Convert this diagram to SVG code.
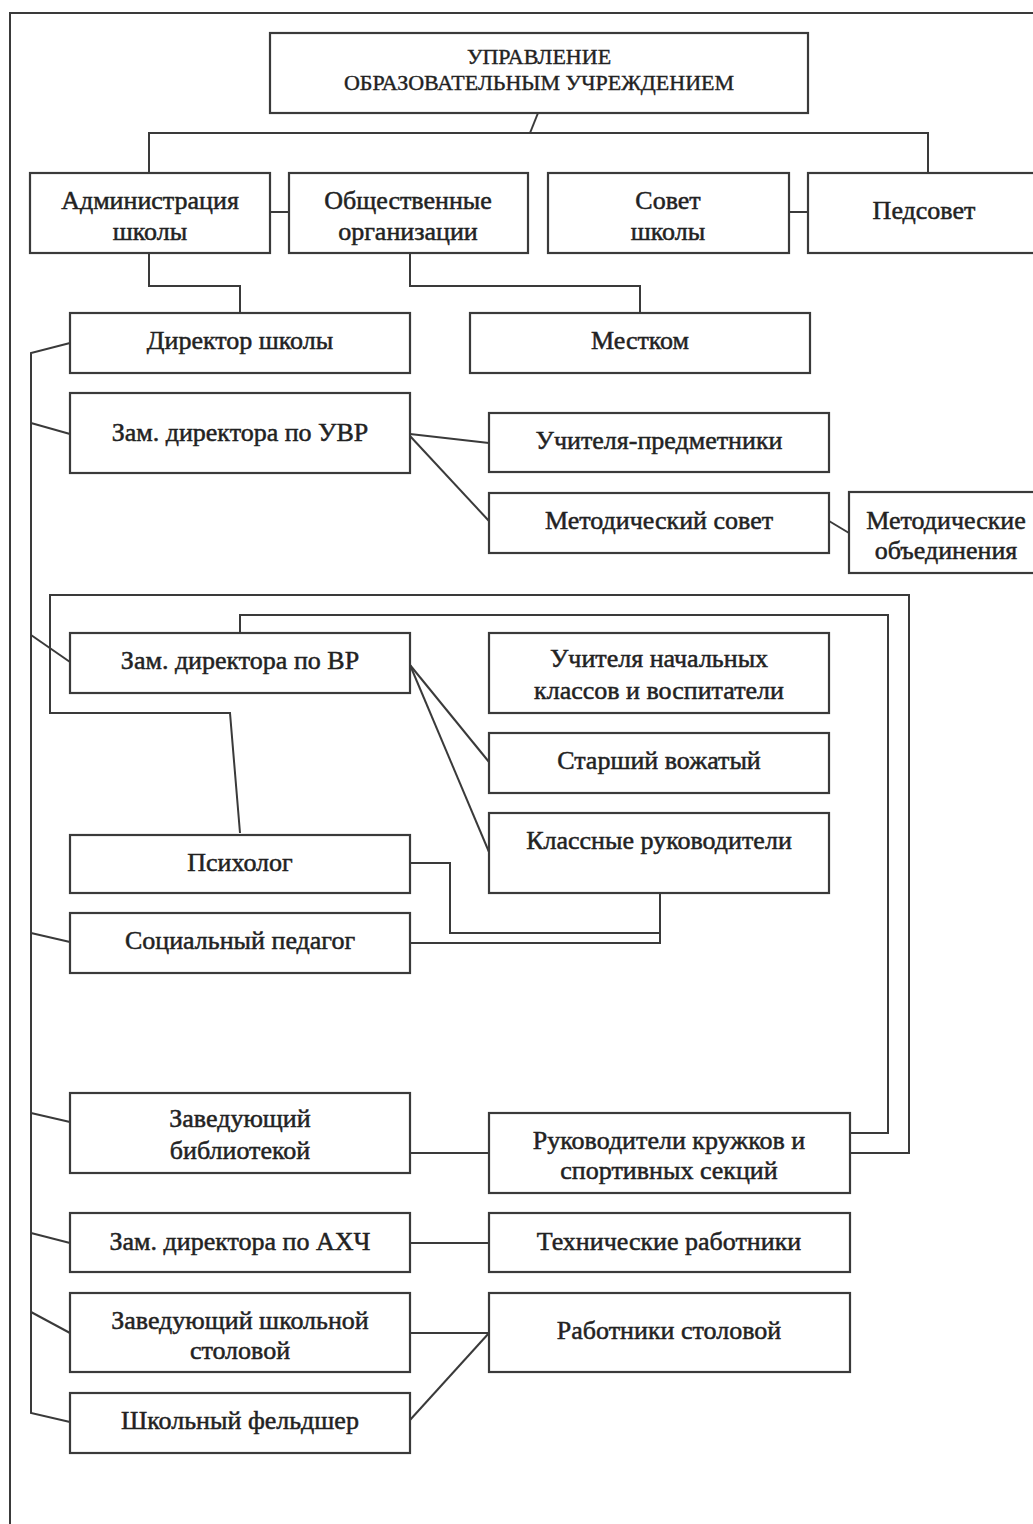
<svg xmlns="http://www.w3.org/2000/svg" width="1033" height="1524" viewBox="0 0 1033 1524">
<style>
.box{fill:#ffffff;stroke:#3a3a3a;stroke-width:2.2}
.ln{fill:none;stroke:#3a3a3a;stroke-width:2}
.t{font-family:"Liberation Serif","Times New Roman",serif;font-size:26px;fill:#222222;stroke:#222222;stroke-width:0.5;text-anchor:middle}
.h{font-family:"Liberation Serif","Times New Roman",serif;font-size:22px;fill:#222222;stroke:#222222;stroke-width:0.4;text-anchor:middle}
</style>
<rect x="0" y="0" width="1033" height="1524" fill="#ffffff"/>
<g id="frame">
<path class="ln" d="M10,1524 L10,13 L1033,13"/>
</g>
<g id="connectors">
<path class="ln" d="M538,113 L530,133"/>
<path class="ln" d="M149,173 L149,133 L928,133 L928,173"/>
<path class="ln" d="M270,212 L289,212"/>
<path class="ln" d="M789,212 L808,212"/>
<path class="ln" d="M149,253 L149,286 L240,286 L240,313"/>
<path class="ln" d="M410,253 L410,286 L640,286 L640,313"/>
<path class="ln" d="M70,343 L31,353 L31,1413 L70,1422"/>
<path class="ln" d="M31,423 L70,434"/>
<path class="ln" d="M410,434 L489,443"/>
<path class="ln" d="M410,436 L489,521"/>
<path class="ln" d="M829,521 L849,533"/>
<path class="ln" d="M31,635 L70,662"/>
<path class="ln" d="M410,665 L489,762"/>
<path class="ln" d="M410,665 L489,852"/>
<path class="ln" d="M240,833 L230,713 L50,713 L50,595 L909,595 L909,1153 L850,1153"/>
<path class="ln" d="M240,633 L240,615 L888,615 L888,1133 L850,1133"/>
<path class="ln" d="M410,863 L450,863 L450,933 L660,933"/>
<path class="ln" d="M410,943 L660,943 L660,893"/>
<path class="ln" d="M31,933 L70,942"/>
<path class="ln" d="M31,1113 L70,1122"/>
<path class="ln" d="M410,1153 L489,1153"/>
<path class="ln" d="M31,1233 L70,1243"/>
<path class="ln" d="M410,1243 L489,1243"/>
<path class="ln" d="M31,1312 L70,1333"/>
<path class="ln" d="M410,1333 L489,1333"/>
<path class="ln" d="M410,1420 L489,1333"/>
</g>
<g id="n-upr"><rect class="box" x="270" y="33" width="538" height="80"/><text class="h" x="539" y="64">УПРАВЛЕНИЕ</text><text class="h" x="539" y="90">ОБРАЗОВАТЕЛЬНЫМ УЧРЕЖДЕНИЕМ</text></g>
<g id="n-adm"><rect class="box" x="30" y="173" width="240" height="80"/><text class="t" x="150" y="209">Администрация</text><text class="t" x="150" y="240">школы</text></g>
<g id="n-obsh"><rect class="box" x="289" y="173" width="239" height="80"/><text class="t" x="408" y="209">Общественные</text><text class="t" x="408" y="240">организации</text></g>
<g id="n-sovet"><rect class="box" x="548" y="173" width="241" height="80"/><text class="t" x="668" y="209">Совет</text><text class="t" x="668" y="240">школы</text></g>
<g id="n-ped"><rect class="box" x="808" y="173" width="240" height="80"/><text class="t" x="924" y="219">Педсовет</text></g>
<g id="n-dir"><rect class="box" x="70" y="313" width="340" height="60"/><text class="t" x="240" y="349">Директор школы</text></g>
<g id="n-mest"><rect class="box" x="470" y="313" width="340" height="60"/><text class="t" x="640" y="349">Местком</text></g>
<g id="n-uvr"><rect class="box" x="70" y="393" width="340" height="80"/><text class="t" x="240" y="441">Зам. директора по УВР</text></g>
<g id="n-uchpr"><rect class="box" x="489" y="413" width="340" height="59"/><text class="t" x="659" y="449">Учителя-предметники</text></g>
<g id="n-metsov"><rect class="box" x="489" y="493" width="340" height="60"/><text class="t" x="659" y="529">Методический совет</text></g>
<g id="n-metob"><rect class="box" x="849" y="492" width="200" height="81"/><text class="t" x="946" y="529">Методические</text><text class="t" x="946" y="559">объединения</text></g>
<g id="n-vr"><rect class="box" x="70" y="633" width="340" height="60"/><text class="t" x="240" y="669">Зам. директора по ВР</text></g>
<g id="n-uchnach"><rect class="box" x="489" y="633" width="340" height="80"/><text class="t" x="659" y="667">Учителя начальных</text><text class="t" x="659" y="699">классов и воспитатели</text></g>
<g id="n-vozh"><rect class="box" x="489" y="733" width="340" height="60"/><text class="t" x="659" y="769">Старший вожатый</text></g>
<g id="n-klruk"><rect class="box" x="489" y="813" width="340" height="80"/><text class="t" x="659" y="849">Классные руководители</text></g>
<g id="n-psih"><rect class="box" x="70" y="835" width="340" height="58"/><text class="t" x="240" y="871">Психолог</text></g>
<g id="n-socped"><rect class="box" x="70" y="913" width="340" height="60"/><text class="t" x="240" y="949">Социальный педагог</text></g>
<g id="n-bibl"><rect class="box" x="70" y="1093" width="340" height="80"/><text class="t" x="240" y="1127">Заведующий</text><text class="t" x="240" y="1159">библиотекой</text></g>
<g id="n-kruzh"><rect class="box" x="489" y="1113" width="361" height="80"/><text class="t" x="669" y="1149">Руководители кружков и</text><text class="t" x="669" y="1179">спортивных секций</text></g>
<g id="n-ahch"><rect class="box" x="70" y="1213" width="340" height="59"/><text class="t" x="240" y="1250">Зам. директора по АХЧ</text></g>
<g id="n-tech"><rect class="box" x="489" y="1213" width="361" height="59"/><text class="t" x="669" y="1250">Технические работники</text></g>
<g id="n-stol"><rect class="box" x="70" y="1293" width="340" height="79"/><text class="t" x="240" y="1329">Заведующий школьной</text><text class="t" x="240" y="1359">столовой</text></g>
<g id="n-rabstol"><rect class="box" x="489" y="1293" width="361" height="79"/><text class="t" x="669" y="1339">Работники столовой</text></g>
<g id="n-feld"><rect class="box" x="70" y="1393" width="340" height="60"/><text class="t" x="240" y="1429">Школьный фельдшер</text></g>
</svg>
